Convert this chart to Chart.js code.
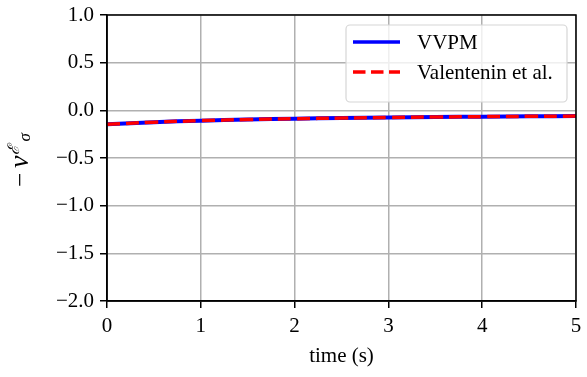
<!DOCTYPE html>
<html>
<head>
<meta charset="utf-8">
<script src="https://cdn.jsdelivr.net/npm/chart.js"></script>
<style>
  html, body { margin: 0; padding: 0; background: #fff; }
  #c { display: block; }
</style>
</head>
<body>
<canvas id="c" width="587" height="377"></canvas>
<script>
// data
const times = [0, 0.5, 1, 1.5, 2, 2.5, 3, 3.5, 4, 4.5, 5];
const vvpm = [-0.147, -0.124, -0.108, -0.097, -0.088, -0.081, -0.075, -0.070, -0.066, -0.063, -0.060];
const valentenin = [-0.147, -0.124, -0.108, -0.097, -0.088, -0.081, -0.075, -0.070, -0.066, -0.063, -0.060];
const xTicks = [0, 1, 2, 3, 4, 5];
const yTicks = [1.0, 0.5, 0.0, -0.5, -1.0, -1.5, -2.0];
const seriesNames = ["VVPM", "Valentenin et al."];

const FONT = "Liberation Serif";

function pts(ys) {
    return times.map((t, i) => ({ x: t, y: ys[i] }));
}

// frame + y label + legend
const extras = {
    id: "extras",
    afterDraw(chart) {
        const ctx = chart.ctx;
        const a = chart.chartArea;
        ctx.save();
        ctx.strokeStyle = "#000";
        ctx.lineWidth = 1.5;
        ctx.strokeRect(a.left, a.top, a.right - a.left, a.bottom - a.top);

        // y axis label: −ν with script E superscript and σ subscript
        ctx.translate(28, 187);
        ctx.rotate(-Math.PI / 2);
        ctx.fillStyle = "#000";
        ctx.textBaseline = "alphabetic";
        ctx.textAlign = "left";
        ctx.font = "25px " + FONT;
        ctx.fillText("−", 0, 0);
        ctx.font = "italic 28px " + FONT;
        ctx.fillText("ν", 19, 0);
        const nuEnd = 19 + ctx.measureText("ν").width;
        ctx.font = "italic 16px 'DejaVu Serif'";
        ctx.fillText("ℰ", nuEnd + 1, -9);
        ctx.font = "italic 17px " + FONT;
        ctx.fillText("σ", nuEnd + 14, 2);
        ctx.restore();

        // legend
        ctx.save();
        const lx = 346, ly = 25, lw = 221, lh = 77;
        ctx.fillStyle = "rgba(255,255,255,0.8)";
        ctx.strokeStyle = "#d6d6d6";
        ctx.lineWidth = 1.2;
        ctx.beginPath();
        ctx.roundRect(lx, ly, lw, lh, 4);
        ctx.fill();
        ctx.stroke();
        const colors = ["#0000ff", "#ff0000"];
        const dashes = [[], [12.5, 5.5]];
        const rows = [ly + 17, ly + 47];
        ctx.lineWidth = 3.5;
        for (let i = 0; i < 2; i++) {
            ctx.strokeStyle = colors[i];
            ctx.setLineDash(dashes[i]);
            ctx.beginPath();
            ctx.moveTo(lx + 7, rows[i]);
            ctx.lineTo(lx + 54, rows[i]);
            ctx.stroke();
        }
        ctx.setLineDash([]);
        ctx.fillStyle = "#000";
        ctx.font = "21px " + FONT;
        ctx.textBaseline = "middle";
        ctx.fillText(seriesNames[0], lx + 71, rows[0] + 1);
        ctx.fillText(seriesNames[1], lx + 71, rows[1] + 1);
        ctx.restore();
    }
};

new Chart(document.getElementById("c"), {
    type: "scatter",
    data: {
        datasets: [
            {
                label: seriesNames[0],
                data: pts(vvpm),
                showLine: true,
                borderColor: "#0000ff",
                borderWidth: 4,
                pointRadius: 0,
                tension: 0.4,
                order: 2
            },
            {
                label: seriesNames[1],
                data: pts(valentenin),
                showLine: true,
                borderColor: "#ff0000",
                borderWidth: 3.5,
                borderDash: [13, 6],
                pointRadius: 0,
                tension: 0.4,
                order: 1
            }
        ]
    },
    options: {
        responsive: false,
        animation: false,
        layout: { padding: { top: 15, right: 11, left: 0, bottom: 0 } },
        plugins: { legend: { display: false }, tooltip: { enabled: false } },
        scales: {
            x: {
                type: "linear",
                min: 0,
                max: 5,
                afterBuildTicks: s => { s.ticks = xTicks.map(v => ({ value: v })); },
                afterFit: s => { s.height = 76; s.paddingLeft = 0; s.paddingRight = 0; },
                grid: { color: "#b0b0b0", lineWidth: 1.5, tickColor: "#000", tickLength: 7, tickWidth: 1.5 },
                border: { color: "#000", width: 1.5 },
                ticks: {
                    color: "#000",
                    font: { family: FONT, size: 21 },
                    padding: 6,
                    maxRotation: 0,
                    callback: v => String(v)
                },
                title: {
                    display: true,
                    text: "time (s)",
                    color: "#000",
                    font: { family: FONT, size: 21 },
                    padding: { top: 0, bottom: 8 }
                }
            },
            y: {
                type: "linear",
                min: -2,
                max: 1,
                afterBuildTicks: s => { s.ticks = yTicks.map(v => ({ value: v })); },
                afterFit: s => { s.width = 107; s.paddingTop = 0; s.paddingBottom = 0; },
                grid: { color: "#b0b0b0", lineWidth: 1.5, tickColor: "#000", tickLength: 7, tickWidth: 1.5 },
                border: { color: "#000", width: 1.5 },
                ticks: {
                    color: "#000",
                    font: { family: FONT, size: 21 },
                    padding: 6,
                    callback: v => v.toFixed(1).replace("-", "−")
                }
            }
        }
    },
    plugins: [extras]
});
</script>
</body>
</html>
